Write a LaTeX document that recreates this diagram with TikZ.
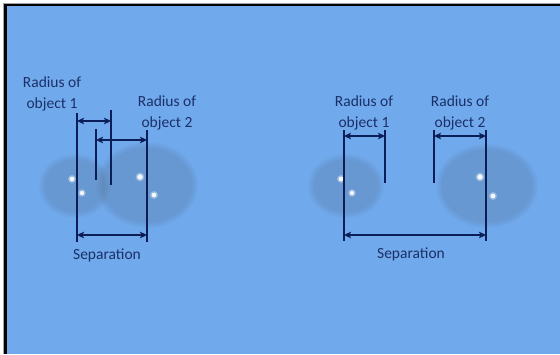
\documentclass[tikz,border=0pt]{standalone}
\usepackage{fontspec}
\setmainfont{Carlito}
\usetikzlibrary{arrows.meta}
\definecolor{bg}{HTML}{70A9EC}
\definecolor{blob}{HTML}{5A7594}
\definecolor{ink}{HTML}{0C1E58}
\definecolor{txt}{HTML}{1C3068}
\tikzset{
  lbl/.style={font=\fontsize{15.5}{20.5}\selectfont, text=txt, align=center, inner sep=0pt, anchor=north},
  dimline/.style={draw=ink, line width=1.3pt},
  dimarrow/.style={draw=ink, line width=1.2pt, {Stealth[length=7pt,width=6.5pt,inset=1.5pt]}-{Stealth[length=7pt,width=6.5pt,inset=1.5pt]}},
  spot/.style={fill=white, opacity=0.9},
  glow/.style={fill=white, opacity=0.3}
}
\newcommand{\softblob}[3]{%
  \foreach \k in {0,...,5} {
    \fill[blob, opacity=0.05] (#1) ellipse ({#2-\k*1.2} and {#3-\k*1.2});
  }
}
\begin{document}
\begin{tikzpicture}[x=1pt,y=-1pt]
\useasboundingbox (0,0) rectangle (560,354);
% frame
\fill[white] (0,0) rectangle (560,354);
\fill[bg] (5.5,5) rectangle (560,354);
\draw[gray!70, line width=0.8pt] (3,354) -- (3,3) -- (560,3);
\draw[black, line width=2.5pt] (5.5,354) -- (5.5,5) -- (560,5);

% ---- objects
\coordinate (o1) at (75,186);
\coordinate (o2) at (147,185);
\coordinate (p1) at (346,186);
\coordinate (p2) at (487,186);
\softblob{o1}{36}{32}
\softblob{o2}{51}{43}
\softblob{p1}{38}{32}
\softblob{p2}{51}{42}
\foreach \p/\r in {{(72,179)}/2.4, {(82,193)}/2.2, {(140,177)}/2.8, {(154,195)}/2.4, {(341,179)}/2.4, {(352,193)}/2.2, {(480,177)}/2.8, {(493,196)}/2.4} {
  \fill[glow] \p circle (\r+1.6);
  \fill[spot] \p circle (\r);
}

% ---- left labels
\node[lbl] (r1L) at (52,77) {Radius of\\object 1};
\node[lbl] (r2L) at (167,96) {Radius of\\object 2};
\node[lbl] (sepL) at (107,249) {Separation};

% left dimension lines
\coordinate (a1t) at (77,113);   \coordinate (a1b) at (77,242);
\coordinate (a2t) at (111,110);  \coordinate (a2b) at (111,185);
\coordinate (a3t) at (96,129);   \coordinate (a3b) at (96,180);
\coordinate (a4t) at (147,130);  \coordinate (a4b) at (147,242);
\draw[dimline] (a1t) -- (a1b);
\draw[dimline] (a2t) -- (a2b);
\draw[dimline] (a3t) -- (a3b);
\draw[dimline] (a4t) -- (a4b);
\draw[dimarrow] (a1t |- 0,121) -- (a2t |- 0,121);
\draw[dimarrow] (a3t |- 0,140) -- (a4t |- 0,140);
\draw[dimarrow] (a1t |- 0,235) -- (a4t |- 0,235);

% ---- right labels
\node[lbl] (r1R) at (364,96) {Radius of\\object 1};
\node[lbl] (r2R) at (460,96) {Radius of\\object 2};
\node[lbl] (sepR) at (411,248) {Separation};

% right dimension lines
\coordinate (b1t) at (344,130);  \coordinate (b1b) at (344,241);
\coordinate (b2t) at (385,130);  \coordinate (b2b) at (385,183);
\coordinate (b3t) at (434,130);  \coordinate (b3b) at (434,183);
\coordinate (b4t) at (486,130);  \coordinate (b4b) at (486,241);
\draw[dimline] (b1t) -- (b1b);
\draw[dimline] (b2t) -- (b2b);
\draw[dimline] (b3t) -- (b3b);
\draw[dimline] (b4t) -- (b4b);
\draw[dimarrow] (b1t |- 0,136) -- (b2t |- 0,136);
\draw[dimarrow] (b3t |- 0,136) -- (b4t |- 0,136);
\draw[dimarrow] (b1t |- 0,235) -- (b4t |- 0,235);
\end{tikzpicture}
\end{document}
